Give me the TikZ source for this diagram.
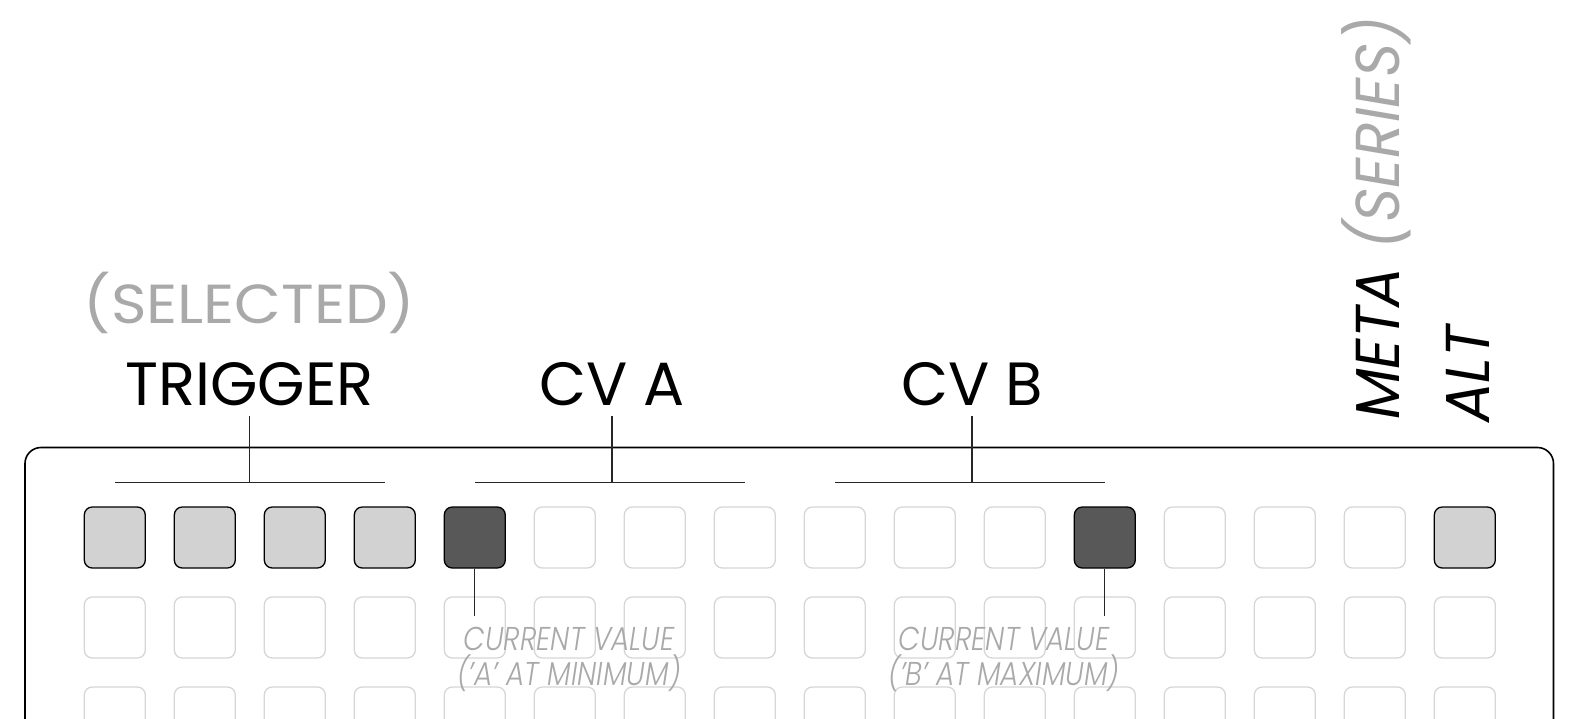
\documentclass[tikz,border=0pt]{standalone}
\usepackage{fontspec}
\setmainfont{Poppins}[UprightFont={* Light}, ItalicFont={* Light Italic}]
\newfontfamily\labelfont{Poppins}
\usetikzlibrary{positioning}
\definecolor{padlight}{HTML}{D2D2D2}
\definecolor{paddark}{HTML}{575857}
\definecolor{padoff}{HTML}{D6D6D6}
\definecolor{labelgrey}{HTML}{A9A9A9}
\tikzset{
  pad/.style={draw=padoff, line width=1.3pt, rounded corners=8pt, minimum size=61pt, inner sep=0pt},
  padsel/.style={pad, draw=black, fill=padlight},
  padval/.style={pad, draw=black, fill=paddark},
  title/.style={inner sep=0pt, anchor=base, font=\labelfont\fontsize{61}{61}\selectfont},
  note/.style={inner sep=0pt, align=center, text=labelgrey, font=\itshape\addfontfeature{FakeStretch=0.85}\fontsize{33}{34.5}\selectfont},
  side/.style={rotate=90, anchor=base west, inner sep=0pt, font=\labelfont\itshape\addfontfeature{FakeStretch=0.95}\fontsize{62}{62}\selectfont},
  bracket/.style={draw=black!85, line width=1.3pt}
}
\begin{document}
\begin{tikzpicture}[x=1pt,y=-1pt]
\clip (0,0) rectangle (1580,718);
\pgfmathsetmacro\pitch{90};
% panel
\draw[line width=1.6pt, rounded corners=16pt] (25,447.5) rectangle (1553.5,800);
% pads
\foreach \r in {2,3} \foreach \c in {1,...,16} \node[pad] (p-\r-\c) at ({114.8+\pitch*(\c-1)},{537.5+\pitch*(\r-1)}) {};
\foreach \c/\s in {1/padsel,2/padsel,3/padsel,4/padsel,5/padval,6/pad,7/pad,8/pad,9/pad,10/pad,11/pad,12/padval,13/pad,14/pad,15/pad,16/padsel}
  \node[\s] (p-1-\c) at ({114.8+\pitch*(\c-1)},537.5) {};
% labels
\node[title, text=labelgrey, font=\labelfont\addfontfeature{FakeStretch=1.1}\fontsize{55}{55}\selectfont] (sel) at (249.5,323) {(SELECTED)};
\node[title] (trig) at (249.5,405.5) {TRIGGER};
\node[title] (cva) at (612,405.5) {CV A};
\node[title] (cvb) at (972,405.5) {CV B};
\foreach \t/\a/\b in {trig/1/4,cva/5/8,cvb/9/12} {
  \coordinate (bar-\t) at (\t.base |- 0,482.3);
  \draw[bracket] (p-1-\a |- bar-\t) -- (p-1-\b |- bar-\t);
  \draw[bracket, shorten <=10pt] (\t.base) -- (bar-\t);
}
\node[side] (meta) at (1399,420) {META \textcolor{labelgrey}{(SERIES)}};
\node[side] (alt) at (1489,423) {ALT};
% current values
\coordinate (tip-a) at (p-1-5 |- 0,615.7);
\coordinate (tip-b) at (p-1-12 |- 0,615.7);
\draw[bracket] (p-1-5.south) -- (tip-a);
\draw[bracket] (p-1-12.south) -- (tip-b);
\node[note, anchor=north] (cur-a) at (569,627) {CURRENT VALUE\\(’A’ AT MINIMUM)};
\node[note, anchor=north] (cur-b) at (1004,627) {CURRENT VALUE\\(’B’ AT MAXIMUM)};
\end{tikzpicture}
\end{document}
